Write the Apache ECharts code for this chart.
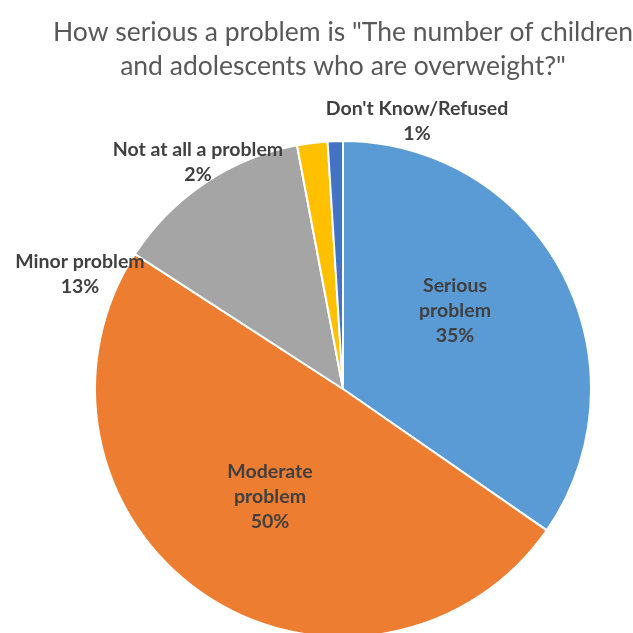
<!DOCTYPE html>
<html><head><meta charset="utf-8">
<script src="https://cdn.jsdelivr.net/npm/echarts@6/dist/echarts.min.js"></script>
<style>html,body{margin:0;padding:0;background:#fff}#c{width:633px;height:633px}</style>
</head><body><div id="c"></div>
<script>
var titleLines = ['How serious a problem is "The number of children', 'and adolescents who are overweight?"'];
var categories = ['Serious\nproblem', 'Moderate\nproblem', 'Minor problem', 'Not at all a problem', "Don't Know/Refused"];
var values = [35, 50, 13, 2, 1];
var colors = ['#5B9BD5', '#ED7D31', '#A5A5A5', '#FFC000', '#4472C4'];
// label centers (px) for each slice label, Excel-style placement
var labelPos = [[455, 311], [270, 497], [80, 274], [198, 162], [417, 121]];

var chart = echarts.init(document.getElementById('c'), null, {renderer: 'canvas'});
chart.setOption({
  animation: false,
  backgroundColor: '#fff',
  title: {
    text: titleLines.join('\n'),
    left: 338, top: 10, textAlign: 'center',
    textStyle: {fontFamily: 'Lato', fontSize: 26.5, fontWeight: 'normal', color: '#595959', lineHeight: 34}
  },
  series: [{
    type: 'pie',
    center: [343, 389],
    radius: 248,
    startAngle: 90,
    clockwise: true,
    avoidLabelOverlap: false,
    itemStyle: {borderColor: '#fff', borderWidth: 2},
    label: {
      show: true, position: 'outside',
      formatter: function (p) { return p.name + '\n' + p.value + '%'; },
      fontFamily: 'Lato', fontSize: 19.5, fontWeight: 'bold', color: '#404040', lineHeight: 25, align: 'center'
    },
    labelLine: {show: false, length: 0, length2: 0},
    labelLayout: function (p) {
      var pos = labelPos[p.dataIndex];
      return {x: pos[0], y: pos[1], align: 'center', verticalAlign: 'middle'};
    },
    data: categories.map(function (c, i) { return {name: c, value: values[i], itemStyle: {color: colors[i]}}; })
  }]
});
</script></body></html>
